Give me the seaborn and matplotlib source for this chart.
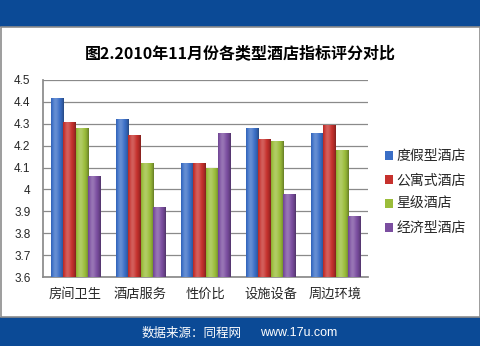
import numpy as np
import pandas as pd
import matplotlib
matplotlib.use("Agg")
import matplotlib.pyplot as plt
from matplotlib.patches import Rectangle
import seaborn as sns

# 各类型酒店的五项指标评分
categories = ["房间卫生", "酒店服务", "性价比", "设施设备", "周边环境"]
hotel_types = ["度假型酒店", "公寓式酒店", "星级酒店", "经济型酒店"]
resort = [4.42, 4.32, 4.12, 4.28, 4.26]
apartment = [4.31, 4.25, 4.12, 4.23, 4.295]
starred = [4.28, 4.12, 4.10, 4.22, 4.18]
budget = [4.06, 3.92, 4.26, 3.98, 3.88]
y_ticks = [3.6, 3.7, 3.8, 3.9, 4.0, 4.1, 4.2, 4.3, 4.4, 4.5]
y_tick_labels = ["3.6", "3.7", "3.8", "3.9", "4", "4.1", "4.2", "4.3", "4.4", "4.5"]

series = [resort, apartment, starred, budget]
df = pd.DataFrame({
    "指标": categories * len(hotel_types),
    "类型": [t for t in hotel_types for _ in categories],
    "评分": [v for s in series for v in s],
})

colors = ["#3a6ec6", "#c6312d", "#9bbd3a", "#7b4ea0"]

sns.set_theme(style="white")
plt.rcParams["font.family"] = ["Noto Sans CJK SC", "DejaVu Sans"]

fig = plt.figure(figsize=(4.8, 3.46), dpi=100)
fig.patch.set_facecolor("white")

# 顶部与底部的蓝色色带及灰色边框
band = "#0b4a96"
fig.add_artist(Rectangle((0, 1 - 27 / 346), 1, 27 / 346, transform=fig.transFigure,
                         facecolor=band, edgecolor="none", zorder=0))
fig.add_artist(Rectangle((0, 0), 1, 29 / 346, transform=fig.transFigure,
                         facecolor=band, edgecolor="none", zorder=0))
fig.add_artist(Rectangle((0.5 / 480, 29 / 346), 479 / 480, (346 - 27 - 29) / 346,
                         transform=fig.transFigure, facecolor="none",
                         edgecolor="#8c8c8c", linewidth=1.2, zorder=1))

ax = fig.add_axes([43 / 480, 1 - 277 / 346, (368 - 43) / 480, (277 - 80) / 346])
sns.barplot(data=df, x="指标", y="评分", hue="类型", palette=colors,
            saturation=1, width=0.74, ax=ax, legend=True, edgecolor="none",
            zorder=3)

# 柱形的横向渐变,模拟立体效果
shade = np.linspace(0, 1, 64)
profile = (0.22 * np.exp(-((shade - 0.35) / 0.25) ** 2)
           - 0.35 * (np.abs(shade - 0.42) / 0.58) ** 3)
for patch in ax.patches:
    x0, y0 = patch.get_x(), 3.6
    w, h = patch.get_width(), patch.get_height()
    if w <= 0 or h <= 0:
        continue
    base = np.array(matplotlib.colors.to_rgb(patch.get_facecolor()))
    img = np.empty((2, 64, 3))
    for i, p in enumerate(profile):
        if p >= 0:
            img[:, i, :] = base + (1 - base) * p
        else:
            img[:, i, :] = base * (1 + p)
    im = ax.imshow(np.clip(img, 0, 1), extent=[x0, x0 + w, y0, patch.get_y() + h],
                   aspect="auto", zorder=4, interpolation="bilinear")
    im.set_clip_path(patch)

ax.set_xlim(-0.5, 4.5)
ax.set_ylim(3.6, 4.5)
ax.set_yticks(y_ticks)
ax.set_yticklabels(y_tick_labels, fontsize=8.5, family=["Liberation Sans", "DejaVu Sans"])
ax.set_xticks(range(len(categories)))
ax.set_xticklabels(categories, fontsize=9.5)
ax.tick_params(axis="x", length=0, pad=8)
ax.tick_params(axis="y", length=0, pad=9)
ax.set_xlabel("")
ax.set_ylabel("")
ax.yaxis.grid(True, color="#8a8a8a", linewidth=0.9, zorder=0)
ax.set_axisbelow(True)
for side in ["top", "right"]:
    ax.spines[side].set_visible(False)
ax.spines["left"].set_color("#8a8a8a")
ax.spines["bottom"].set_color("#8a8a8a")

leg = ax.legend(loc="center left", bbox_to_anchor=(1.035, 0.43), frameon=False,
                fontsize=10, handlelength=0.6, handleheight=0.6,
                handletextpad=0.25, labelspacing=0.72, borderaxespad=0)

fig.text(0.5, 1 - 53 / 346, "图2.2010年11月份各类型酒店指标评分对比",
         ha="center", va="center", fontsize=11.5, fontweight="bold", color="black")

fig.text(242 / 480, 1 - 333 / 346, "数据来源：同程网", ha="right", va="center",
         fontsize=9, color="white")
fig.text(260 / 480, 1 - 333 / 346, "www.17u.com", ha="left", va="center",
         fontsize=9, color="white", family=["Liberation Sans", "DejaVu Sans"])

fig.savefig("out.png", dpi=100, facecolor=fig.get_facecolor())
